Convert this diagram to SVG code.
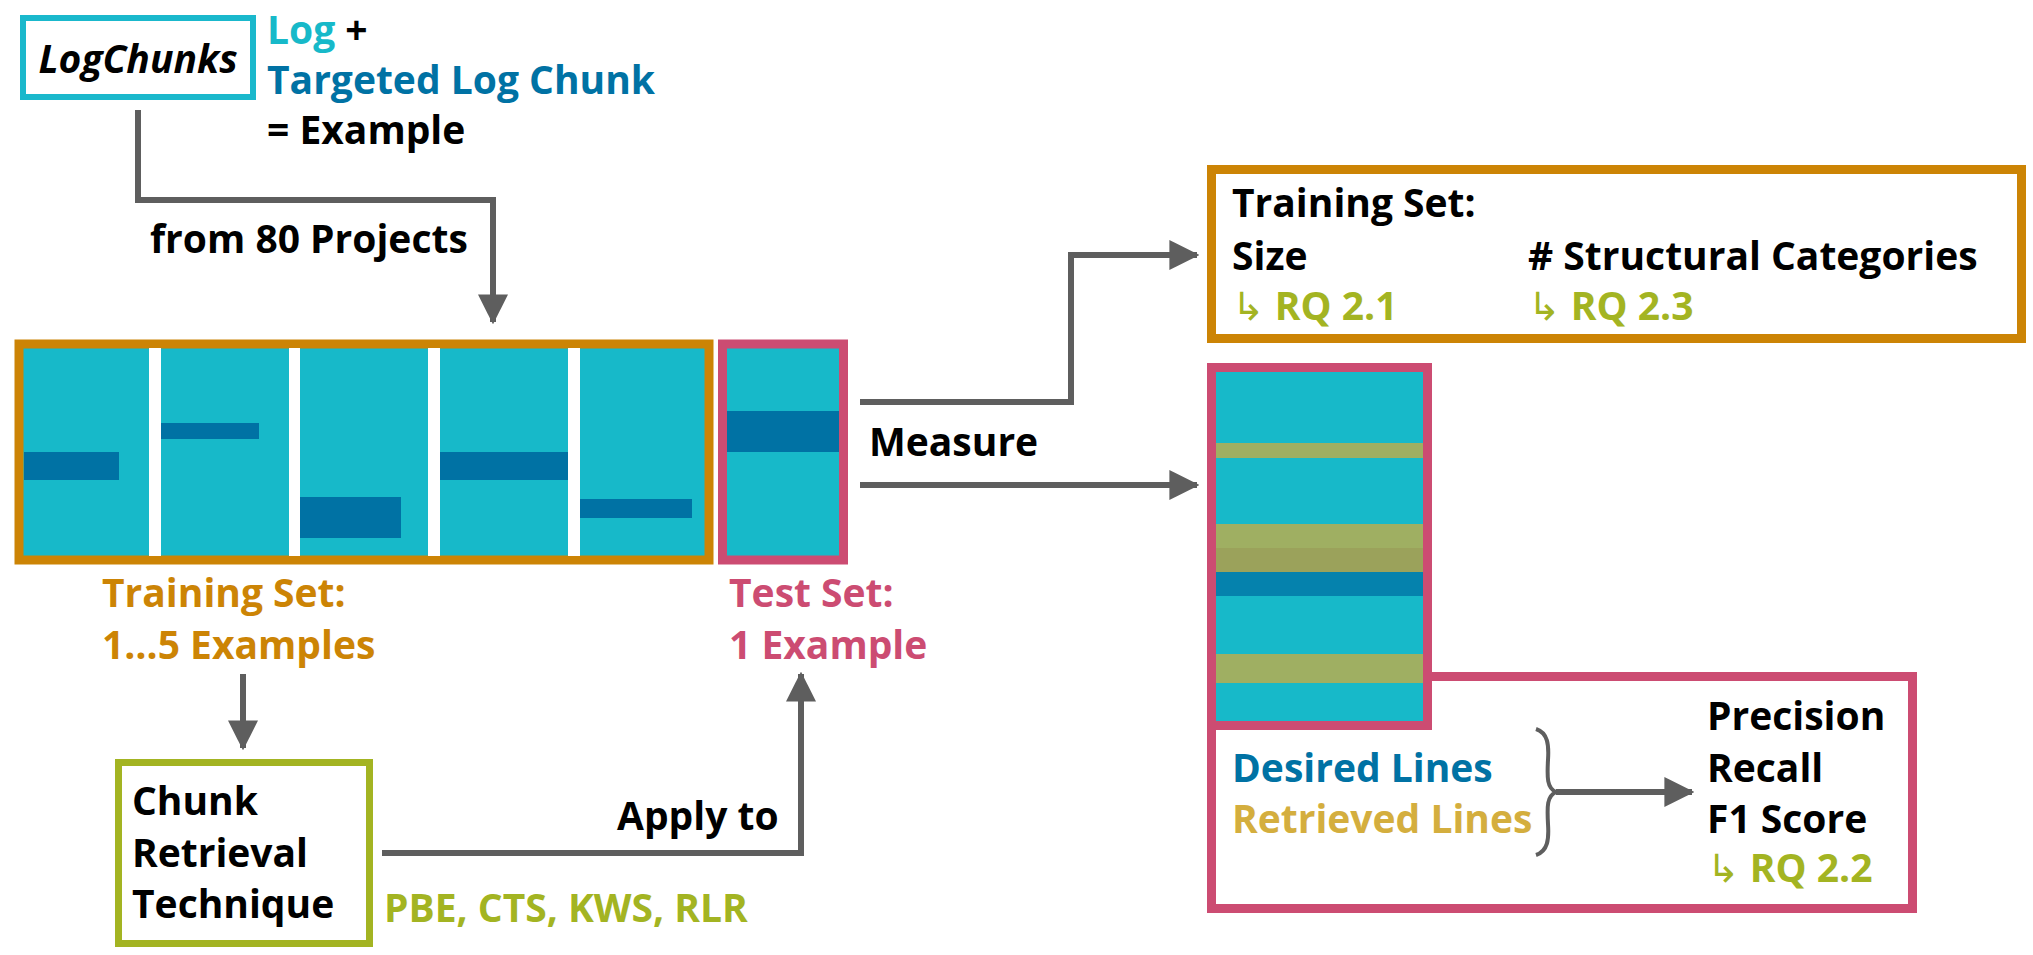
<svg xmlns="http://www.w3.org/2000/svg" width="2033" height="955" viewBox="0 0 2033 955">
<defs>
<style>
text{font-family:"Open Sans","DejaVu Sans",sans-serif;font-weight:700;font-size:39px;fill:#000}
.cy{fill:#17b9c9}.db{fill:#0072a4}.or{fill:#cc8405}.pk{fill:#cc4c72}.gr{fill:#a3b422}.gd{fill:#d4ae3e}
.con{fill:none;stroke:#5e5e5e;stroke-width:6}
.arr{font-weight:400}
</style>
<marker id="ah" markerWidth="5" markerHeight="5" refX="4.6" refY="2.5" orient="auto" markerUnits="strokeWidth" viewBox="0 0 5 5"><path d="M0,0 L5,2.5 L0,5 z" fill="#5e5e5e"/></marker>
</defs>
<rect width="2033" height="955" fill="#fff"/>

<g id="logchunks">
<rect x="23" y="18" width="230" height="79" fill="#fff" stroke="#1ab8cc" stroke-width="6"/>
<text x="138" y="73" text-anchor="middle" font-style="italic" font-size="42">LogChunks</text>
</g>
<g id="legend">
<text x="267" y="44"><tspan class="cy">Log</tspan> +</text>
<text x="267" y="94" class="db">Targeted Log Chunk</text>
<text x="267" y="144">= Example</text>
</g>

<g id="training">
<rect x="19" y="344" width="690" height="216" fill="#17b9c9" stroke="#cc8405" stroke-width="9"/>
<rect x="149" y="348" width="12" height="208" fill="#fff"/>
<rect x="289" y="348" width="11" height="208" fill="#fff"/>
<rect x="428" y="348" width="12" height="208" fill="#fff"/>
<rect x="568" y="348" width="12" height="208" fill="#fff"/>
<rect x="24" y="452" width="95" height="28" class="db"/>
<rect x="161" y="423" width="98" height="16" class="db"/>
<rect x="300" y="497" width="101" height="41" class="db"/>
<rect x="440" y="452" width="128" height="28" class="db"/>
<rect x="580" y="499" width="112" height="19" class="db"/>
<text x="102" y="607" class="or">Training Set:</text>
<text x="102" y="659" class="or">1…5 Examples</text>
</g>

<g id="test">
<rect x="722.5" y="344" width="121" height="216" fill="#17b9c9" stroke="#cc4c72" stroke-width="9"/>
<rect x="727" y="411" width="112" height="41" class="db"/>
<text x="729" y="607" class="pk">Test Set:</text>
<text x="729" y="659" class="pk">1 Example</text>
</g>

<g id="technique">
<rect x="118.5" y="762.5" width="251" height="181" fill="#fff" stroke="#a3b422" stroke-width="7"/>
<text x="132" y="815">Chunk</text>
<text x="132" y="867">Retrieval</text>
<text x="132" y="918">Technique</text>
<text x="384" y="922" class="gr">PBE, CTS, KWS, RLR</text>
</g>

<g id="train-metrics">
<rect x="1211.5" y="169.5" width="810" height="169" fill="#fff" stroke="#cc8405" stroke-width="9"/>
<text x="1232" y="217">Training Set:</text>
<text x="1232" y="270">Size</text>
<text x="1528" y="270"># Structural Categories</text>
<text x="1232" y="320" class="gr"><tspan class="arr">↳</tspan> RQ 2.1</text>
<text x="1528" y="320" class="gr"><tspan class="arr">↳</tspan> RQ 2.3</text>
</g>

<g id="results">
<rect x="1211.5" y="676.5" width="701" height="232" fill="#fff" stroke="#cc4c72" stroke-width="9"/>
<rect x="1211.5" y="367.5" width="216" height="358" fill="#17b9c9" stroke="#cc4c72" stroke-width="9"/>
<rect x="1216" y="443" width="207" height="15" fill="#9faf62"/>
<rect x="1216" y="524" width="207" height="24" fill="#9faf62"/>
<rect x="1216" y="548" width="207" height="24" fill="#9ba25b"/>
<rect x="1216" y="572" width="207" height="24" fill="#0582ad"/>
<rect x="1216" y="654" width="207" height="29" fill="#9faf62"/>
<text x="1232" y="782" class="db">Desired Lines</text>
<text x="1232" y="833" class="gd">Retrieved Lines</text>
<text x="1707" y="730">Precision</text>
<text x="1707" y="782">Recall</text>
<text x="1707" y="833">F1 Score</text>
<text x="1707" y="882" class="gr"><tspan class="arr">↳</tspan> RQ 2.2</text>
</g>

<g id="connectors">
<path class="con" d="M138,110 V200 H493 V322" marker-end="url(#ah)"/>
<text x="150" y="253">from 80 Projects</text>
<path class="con" d="M243,674 V748" marker-end="url(#ah)"/>
<path class="con" d="M382,853 H801 V674" marker-end="url(#ah)"/>
<text x="617" y="830">Apply to</text>
<path class="con" d="M860,402 H1071 V255 H1197" marker-end="url(#ah)"/>
<path class="con" d="M860,485 H1197" marker-end="url(#ah)"/>
<text x="869" y="456">Measure</text>
<path d="M1536,729 C1548,733 1549,745 1548,760 C1547,778 1547,788 1556,792 C1547,796 1547,806 1548,824 C1549,839 1548,851 1536,855" fill="none" stroke="#5e5e5e" stroke-width="4"/>
<path class="con" d="M1556,792 H1692" marker-end="url(#ah)"/>
</g>
</svg>
